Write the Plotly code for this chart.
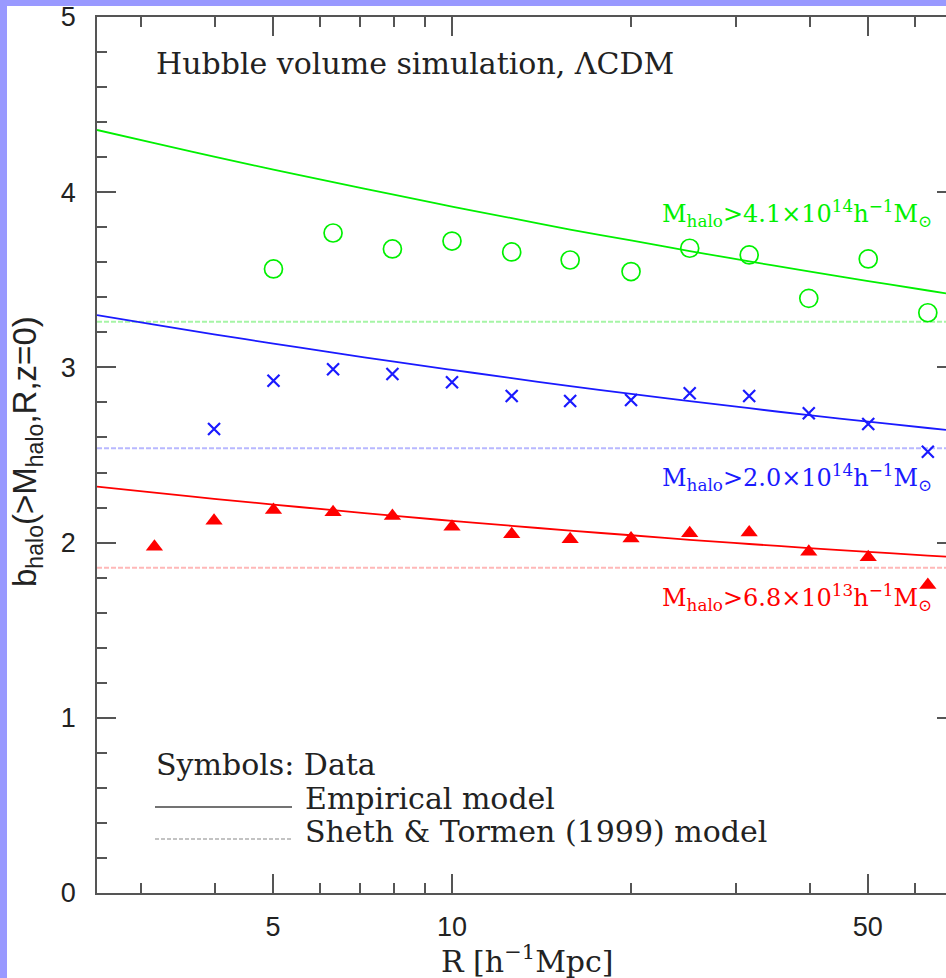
import plotly.graph_objects as go

# Radii of the measured points (0.1 dex spacing), h^-1 Mpc
R_green = [5.01, 6.31, 7.94, 10.0, 12.6, 15.8, 20.0, 25.1, 31.6, 39.8, 50.1, 63.1]
b_green = [3.562, 3.767, 3.676, 3.721, 3.659, 3.613, 3.547, 3.680, 3.642, 3.394, 3.619, 3.312]

R_blue = [3.98, 5.01, 6.31, 7.94, 10.0, 12.6, 15.8, 20.0, 25.1, 31.6, 39.8, 50.1, 63.1]
b_blue = [2.648, 2.924, 2.989, 2.962, 2.915, 2.837, 2.808, 2.814, 2.852, 2.837, 2.738, 2.677, 2.519]

R_red = [3.16, 3.98, 5.01, 6.31, 7.94, 10.0, 12.6, 15.8, 20.0, 25.1, 31.6, 39.8, 50.1, 63.1]
b_red = [1.977, 2.125, 2.186, 2.173, 2.152, 2.091, 2.047, 2.019, 2.024, 2.053, 2.057, 1.948, 1.916, 1.758]

# Empirical model curves
R_model = [2.53, 3.16, 3.98, 5.01, 6.31, 7.94, 10.0, 12.6, 15.8, 20.0, 25.1, 31.6, 39.8, 50.1, 63.1, 67.7]
model_green = [4.355, 4.280, 4.203, 4.129, 4.057, 3.987, 3.918, 3.852, 3.787, 3.725, 3.664, 3.605, 3.548, 3.493, 3.439, 3.423]
model_blue = [3.299, 3.244, 3.189, 3.136, 3.084, 3.034, 2.986, 2.939, 2.893, 2.849, 2.807, 2.767, 2.727, 2.690, 2.654, 2.643]
model_red = [2.319, 2.285, 2.250, 2.217, 2.185, 2.154, 2.124, 2.096, 2.068, 2.042, 2.016, 1.992, 1.969, 1.947, 1.926, 1.920]

# Sheth & Tormen (1999) scale-independent bias
st_green = 3.261
st_blue = 2.538
st_red = 1.857

R_min, R_max = 2.53, 67.7
x_major = [5, 10, 50]
x_minor = [3, 4, 6, 7, 8, 9, 20, 30, 40, 60]
y_major = [0, 1, 2, 3, 4, 5]

GREEN = "#00f000"
BLUE = "#1a1aff"
RED = "#ff0000"
GREEN_L = "#a6f5a6"
BLUE_L = "#b8b8ff"
RED_L = "#ffb8b8"
AX = "#555555"
SERIF = "DejaVu Serif"
SANS = "Liberation Sans"

fig = go.Figure()

# Sheth & Tormen horizontal lines
for val, col in [(st_green, GREEN_L), (st_blue, BLUE_L), (st_red, RED_L)]:
    fig.add_trace(go.Scatter(x=[R_min, R_max], y=[val, val], mode="lines",
                             line=dict(color=col, width=2, dash="5px,2px"),
                             hoverinfo="skip", showlegend=False))

# Empirical model curves
for ys, col in [(model_green, GREEN), (model_blue, BLUE), (model_red, RED)]:
    fig.add_trace(go.Scatter(x=R_model, y=ys, mode="lines",
                             line=dict(color=col, width=1.8, shape="spline"),
                             showlegend=False))

# Measured halo bias
fig.add_trace(go.Scatter(x=R_green, y=b_green, mode="markers",
                         marker=dict(symbol="circle-open", size=18, color=GREEN,
                                     line=dict(width=1.7, color=GREEN)),
                         showlegend=False))
fig.add_trace(go.Scatter(x=R_blue, y=b_blue, mode="markers",
                         marker=dict(symbol="x-thin-open", size=12, color=BLUE,
                                     line=dict(width=2.2, color=BLUE)),
                         showlegend=False))
fig.add_trace(go.Scatter(x=R_red, y=b_red, mode="markers",
                         marker=dict(symbol="triangle-up", size=15, color=RED,
                                     line=dict(width=0)),
                         showlegend=False))

# right-hand tick stubs
fig.add_trace(go.Scatter(x=[R_max], y=[0], yaxis="y2", mode="markers",
                         marker=dict(opacity=0), hoverinfo="skip", showlegend=False))

W, H = 946, 978
L, T, B = 97, 17, 85
pw, ph = W - L, H - T - B


def px(xp):
    return (xp - L) / pw


def py(yp):
    return (H - B - yp) / ph


annotations = [
    dict(text="Hubble volume simulation, ΛCDM", x=px(154), y=py(63),
         xanchor="left", yanchor="middle", font=dict(family=SERIF, size=30, color="#222")),
    dict(text="M<sub>halo</sub>>4.1×10<sup>14</sup>h<sup>−1</sup>M<sub>⊙</sub>",
         x=px(934), y=py(214), xanchor="right", yanchor="middle",
         font=dict(family=SERIF, size=24, color=GREEN)),
    dict(text="M<sub>halo</sub>>2.0×10<sup>14</sup>h<sup>−1</sup>M<sub>⊙</sub>",
         x=px(934), y=py(477), xanchor="right", yanchor="middle",
         font=dict(family=SERIF, size=24, color=BLUE)),
    dict(text="M<sub>halo</sub>>6.8×10<sup>13</sup>h<sup>−1</sup>M<sub>⊙</sub>",
         x=px(934), y=py(597), xanchor="right", yanchor="middle",
         font=dict(family=SERIF, size=24, color=RED)),
    dict(text="Symbols: Data", x=px(154), y=py(764), xanchor="left", yanchor="middle",
         font=dict(family=SERIF, size=30, color="#222")),
    dict(text="Empirical model", x=px(303), y=py(798), xanchor="left", yanchor="middle",
         font=dict(family=SERIF, size=30, color="#222")),
    dict(text="Sheth & Tormen (1999) model", x=px(303), y=py(831), xanchor="left",
         yanchor="middle", font=dict(family=SERIF, size=30, color="#222")),
    dict(text="R [h<sup>−1</sup>Mpc]", x=px(527), y=py(960), xanchor="center",
         yanchor="middle", font=dict(family=SERIF, size=30, color="#222")),
    dict(text="b<sub>halo</sub>(>M<sub>halo</sub>,R,z=0)", x=px(27), y=py(452),
         xanchor="center", yanchor="middle", textangle=-90,
         font=dict(family=SANS, size=33, color="#222")),
]
for a in annotations:
    a.update(xref="paper", yref="paper", showarrow=False)

shapes = [
    # lavender frame round the page
    dict(type="rect", xref="paper", yref="paper", x0=px(0), x1=px(7), y0=py(H), y1=py(0),
         fillcolor="#9999ff", line=dict(width=0), layer="below"),
    dict(type="rect", xref="paper", yref="paper", x0=px(0), x1=px(W), y0=py(6), y1=py(0),
         fillcolor="#9999ff", line=dict(width=0), layer="below"),
    # key line samples
    dict(type="line", xref="paper", yref="paper", x0=px(155), x1=px(292), y0=py(807), y1=py(807),
         line=dict(color="#444", width=1.6)),
    dict(type="line", xref="paper", yref="paper", x0=px(155), x1=px(292), y0=py(839), y1=py(839),
         line=dict(color="#b0b0b0", width=1.6, dash="4px,2px")),
]

fig.update_layout(
    width=W, height=H,
    margin=dict(l=L, r=0, t=T, b=B, pad=0),
    paper_bgcolor="white", plot_bgcolor="white",
    showlegend=False,
    annotations=annotations,
    shapes=shapes,
    xaxis=dict(type="log", range=[0.4031, 1.8306], tickmode="array", tickvals=x_major,
               ticktext=[str(v) for v in x_major], ticks="inside", ticklen=19, tickwidth=1.5,
               tickcolor=AX, showline=True, linecolor=AX, linewidth=1.5, mirror="ticks",
               showgrid=False, zeroline=False, ticklabelstandoff=9,
               tickfont=dict(family=SANS, size=27, color="#222"),
               minor=dict(tickmode="array", tickvals=x_minor, ticks="inside", ticklen=10,
                          tickwidth=1.5, tickcolor=AX, showgrid=False)),
    yaxis=dict(range=[0, 5], tickmode="array", tickvals=y_major,
               ticks="inside", ticklen=19, tickwidth=1.5, tickcolor=AX,
               showline=True, linecolor=AX, linewidth=1.5, mirror=False,
               showgrid=False, zeroline=False, ticklabelstandoff=14,
               tickfont=dict(family=SANS, size=27, color="#222"),
               minor=dict(dtick=0.2, ticks="inside", ticklen=10, tickwidth=1.5,
                          tickcolor=AX, showgrid=False)),
    yaxis2=dict(overlaying="y", side="right", range=[0, 5], tickmode="array", tickvals=y_major,
                ticks="inside", ticklen=9, tickwidth=1.5, tickcolor=AX, showticklabels=False,
                showline=False, showgrid=False, zeroline=False),
)

fig.write_html("out.html")
